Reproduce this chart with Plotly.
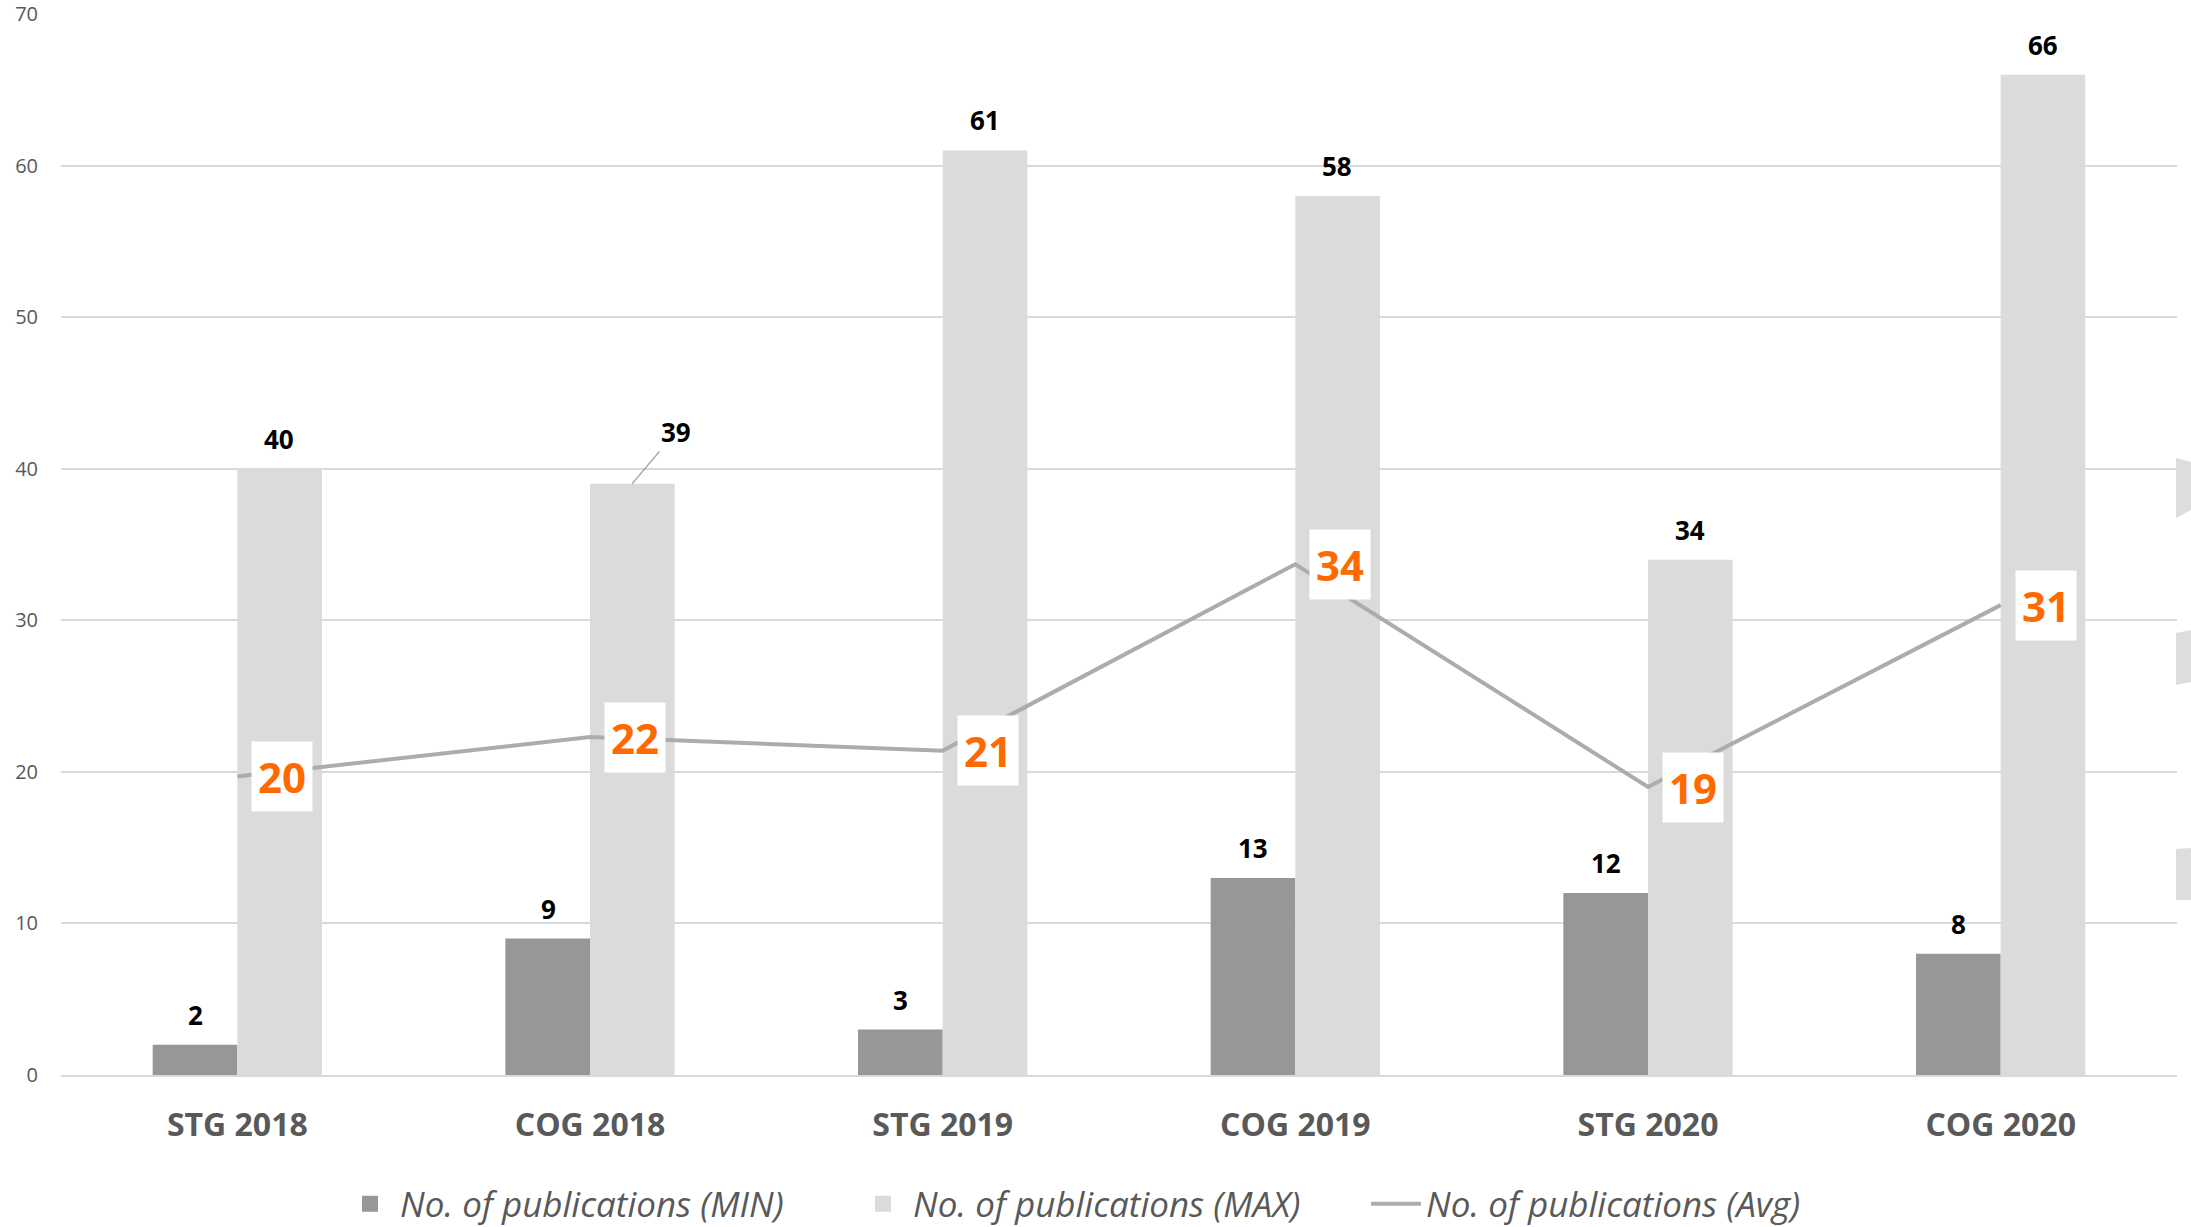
import plotly.graph_objects as go

categories = ["STG 2018", "COG 2018", "STG 2019", "COG 2019", "STG 2020", "COG 2020"]
pubs_min = [2, 9, 3, 13, 12, 8]
pubs_max = [40, 39, 61, 58, 34, 66]
pubs_avg = [19.7, 22.3, 21.4, 33.7, 19.0, 31.0]

W, H = 2191, 1227
ML, MR, MT, MB = 61, 14, 14, 152
FONT = "Open Sans"
GREY_TXT = "#595959"
C_MIN, C_MAX, C_AVG = "#979797", "#DBDBDB", "#ACACAC"
BAR_HALF = 42  # px, half a bar width


def px_to_paper(px, py):
    # page pixel -> paper coords of the plot area
    return (px - ML) / (W - ML - MR), (H - MB - py) / (H - MB - MT)


fig = go.Figure()

fig.add_bar(x=categories, y=pubs_min, name="No. of publications (MIN)",
            marker=dict(color=C_MIN, line=dict(width=0)), showlegend=False)
fig.add_bar(x=categories, y=pubs_max, name="No. of publications (MAX)",
            marker=dict(color=C_MAX, line=dict(width=0)), showlegend=False)
fig.add_scatter(x=categories, y=pubs_avg, name="No. of publications (Avg)",
                mode="lines", line=dict(color=C_AVG, width=4), showlegend=False)

# legend entries (bigger swatches than plotly's default bar icon)
for name, col in [("No. of publications (MIN)", C_MIN), ("No. of publications (MAX)", C_MAX)]:
    fig.add_scatter(x=[None], y=[None], name=name, mode="markers",
                    marker=dict(symbol="square", size=16, color=col))
fig.add_scatter(x=[None], y=[None], name="No. of publications (Avg)",
                mode="lines", line=dict(color=C_AVG, width=4))

label_font = dict(family=FONT, size=26, color="black", weight="bold")
annotations = []
for series, shift in [(pubs_min, -BAR_HALF), (pubs_max, BAR_HALF)]:
    for i, (cat, v) in enumerate(zip(categories, series)):
        if series is pubs_max and i == 1:
            continue  # this one is offset with a leader line
        annotations.append(dict(
            x=cat, y=v, xref="x", yref="y", xshift=shift, yshift=10,
            text=str(v), showarrow=False, yanchor="bottom", font=label_font,
        ))

annotations.append(dict(
    x=categories[1], y=pubs_max[1], xref="x", yref="y", xshift=BAR_HALF,
    text=str(pubs_max[1]), showarrow=True, arrowhead=0, arrowwidth=1.5,
    arrowcolor="#A6A6A6", ax=44, ay=-52, standoff=0, font=label_font,
))

for cat, v in zip(categories, pubs_avg):
    annotations.append(dict(
        x=cat, y=v, xref="x", yref="y", text=f"{v:.0f}", showarrow=False,
        xanchor="left", yanchor="middle", xshift=14,
        bgcolor="white", borderpad=6,
        font=dict(family=FONT, size=42, color="#FF6A00", weight="bold"),
    ))

# slivers of grey at the right edge of the original picture
slivers = [
    [(2176, 458), (2191, 462), (2191, 510), (2176, 518)],
    [(2176, 633), (2191, 630), (2191, 682), (2176, 685)],
    [(2176, 849), (2191, 848), (2191, 900), (2176, 900)],
]
shapes = []
for poly in slivers:
    pts = [px_to_paper(x, y) for x, y in poly]
    path = "M " + " L ".join(f"{x:.5f},{y:.5f}" for x, y in pts) + " Z"
    shapes.append(dict(type="path", path=path, xref="paper", yref="paper",
                       fillcolor="#DDDDDD", line=dict(width=0), layer="above"))

leg_x, leg_y = px_to_paper(340, 1204)
fig.update_layout(
    width=W, height=H,
    margin=dict(l=ML, r=MR, t=MT, b=MB, autoexpand=False),
    plot_bgcolor="white", paper_bgcolor="white",
    barmode="group", bargap=0.52, bargroupgap=0,
    font=dict(family=FONT, color=GREY_TXT),
    annotations=annotations, shapes=shapes,
    legend=dict(
        orientation="h", x=leg_x, xanchor="left", y=leg_y, yanchor="middle",
        font=dict(family=FONT, size=35, color=GREY_TXT, style="italic"),
        itemwidth=50, entrywidth=448, entrywidthmode="pixels",
        traceorder="normal",
    ),
)

fig.update_xaxes(
    showgrid=False, showline=True, linecolor="#D9D9D9", linewidth=2,
    ticks="", ticklabelstandoff=21, automargin=False,
    tickfont=dict(family=FONT, size=32, color=GREY_TXT, weight="bold"),
)
fig.update_yaxes(
    range=[0, 70], dtick=10, showgrid=True, gridcolor="#D9D9D9", gridwidth=2,
    zeroline=False, showline=False, ticks="", ticklabelstandoff=22,
    ticklabeloverflow="allow", automargin=False,
    tickfont=dict(family=FONT, size=20, color=GREY_TXT),
)

# drop the default 8px body margin so the figure fills the window exactly
fig.write_html("out.html", config={"displayModeBar": False},
               post_script="document.body.style.margin='0';")
